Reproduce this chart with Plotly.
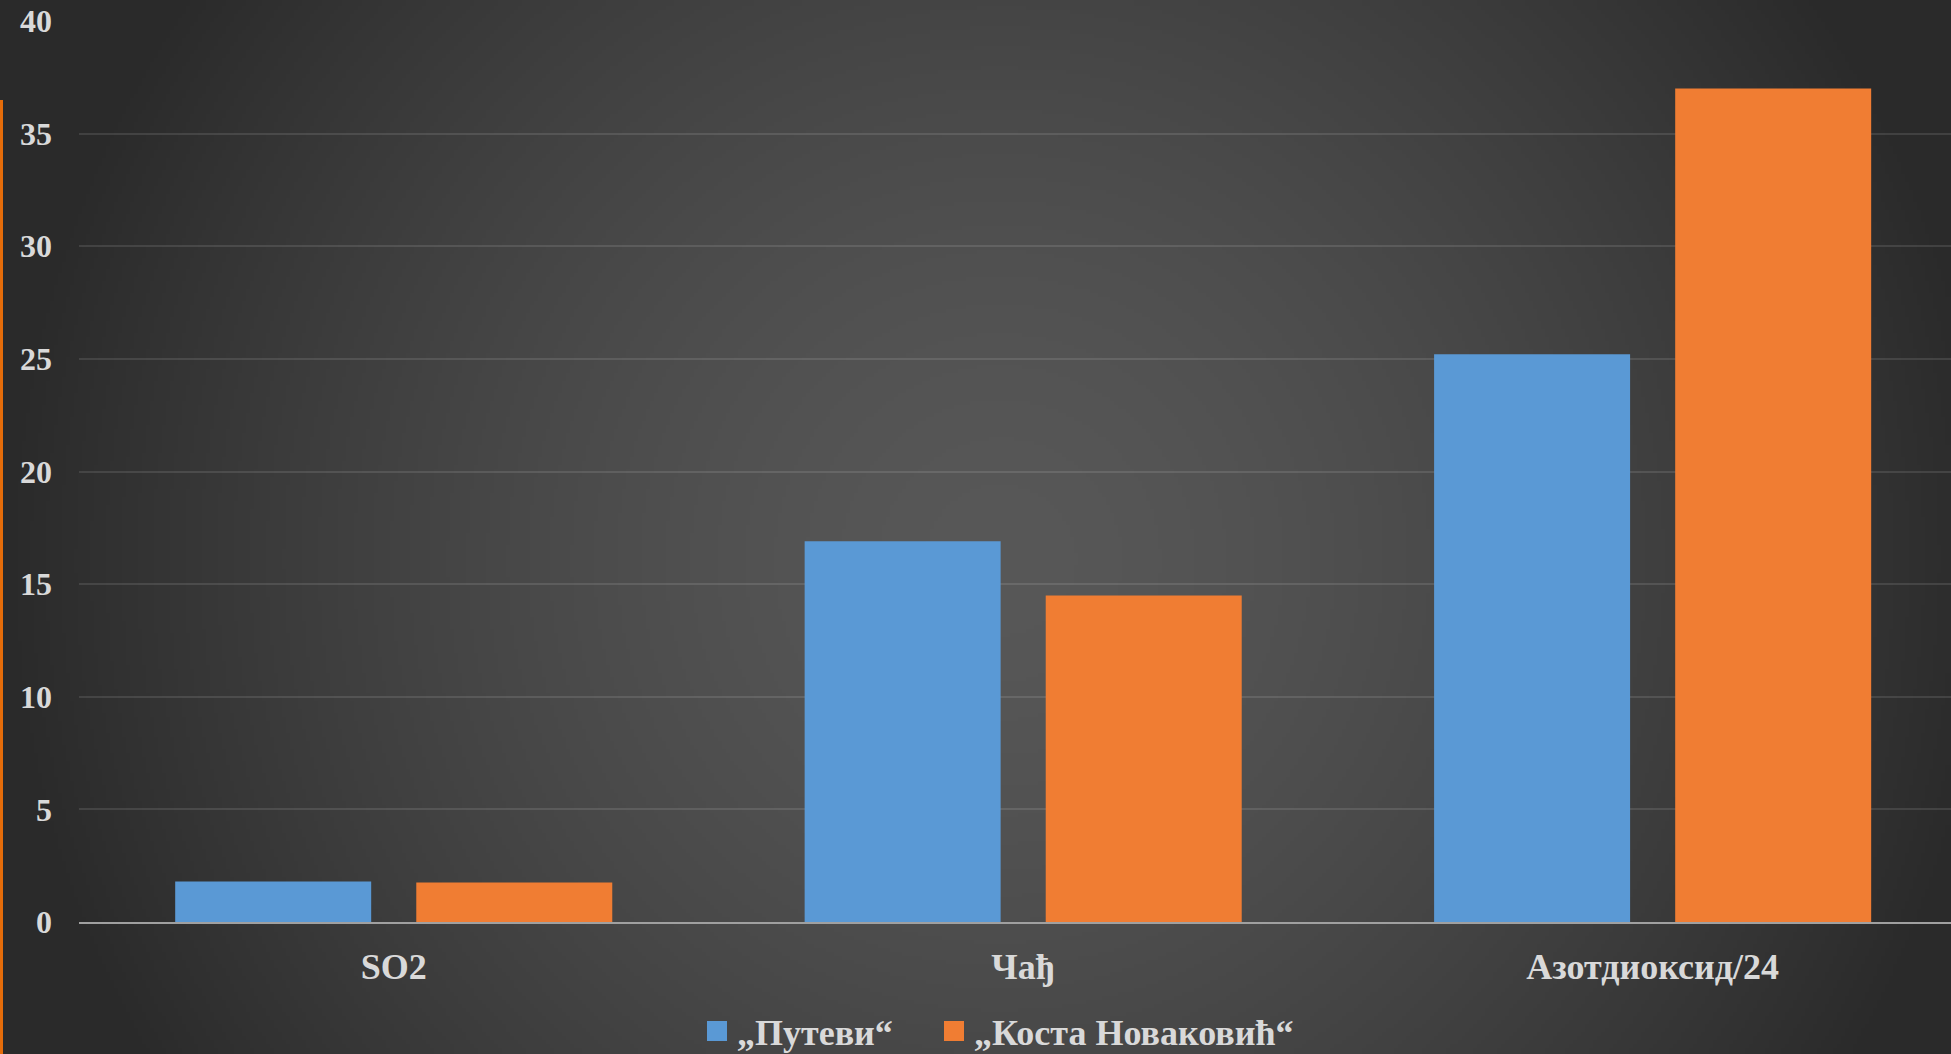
import base64
import struct
import zlib

import numpy as np
import plotly.graph_objects as go

# ---------------- data ----------------
categories = ["SO2", "Чађ", "Азотдиоксид/24"]
series_names = ["„Путеви“", "„Коста Новаковић“"]
putevi = [1.8, 16.9, 25.2]
kosta = [1.75, 14.5, 37.0]
y_ticks = [0, 5, 10, 15, 20, 25, 30, 35, 40]

# ---------------- styling ----------------
W, H = 1951, 1054
ML, MR, MT, MB = 79, 0, 21, 132
BLUE = "#5a99d5"
ORANGE = "#f07d33"
TEXT = "#d9d9d9"
FONT = "Liberation Serif, Times New Roman, serif"


def make_png(arr):
    h, w, _ = arr.shape
    raw = b"".join(b"\x00" + arr[i].tobytes() for i in range(h))

    def chunk(tag, data):
        c = struct.pack(">I", len(data)) + tag + data
        return c + struct.pack(">I", zlib.crc32(tag + data) & 0xFFFFFFFF)

    png = b"\x89PNG\r\n\x1a\n"
    png += chunk(b"IHDR", struct.pack(">IIBBBBB", w, h, 8, 2, 0, 0, 0))
    png += chunk(b"IDAT", zlib.compress(raw, 9))
    png += chunk(b"IEND", b"")
    return "data:image/png;base64," + base64.b64encode(png).decode()


# radial background gradient (light centre, dark edges)
gw, gh = 488, 264
xs = (np.arange(gw) + 0.5) * W / gw
ys = (np.arange(gh) + 0.5) * H / gh
X, Y = np.meshgrid(xs, ys)
d = np.sqrt(((X - 1000) / 1000) ** 2 + ((Y - 560) / 1000) ** 2)
f = 1 - np.clip(d, 0, 1) ** 1.5
v = (0x2A + (0x58 - 0x2A) * f).astype(np.uint8)
bg = np.stack([v, v, v], axis=-1)
bg_src = make_png(bg)

plot_w = W - ML - MR
plot_h = H - MT - MB


def px_x(px):
    return (px - ML) / plot_w


def px_y(py):
    return (MT + plot_h - py) / plot_h


fig = go.Figure()
fig.add_trace(go.Bar(x=categories, y=putevi, name=series_names[0],
                     marker=dict(color=BLUE, line=dict(width=0)), showlegend=False))
fig.add_trace(go.Bar(x=categories, y=kosta, name=series_names[1],
                     marker=dict(color=ORANGE, line=dict(width=0)), showlegend=False))
# legend entries with larger square swatches (one legend each for exact spacing)
fig.add_trace(go.Scatter(x=[None], y=[None], mode="markers", name=series_names[0],
                         legend="legend",
                         marker=dict(symbol="square", size=16, color=BLUE,
                                     line=dict(color=BLUE, width=4))))
fig.add_trace(go.Scatter(x=[None], y=[None], mode="markers", name=series_names[1],
                         legend="legend2",
                         marker=dict(symbol="square", size=16, color=ORANGE,
                                     line=dict(color=ORANGE, width=4))))

legend_common = dict(
    orientation="h",
    xanchor="left",
    yanchor="middle",
    font=dict(family=FONT, size=36, color=TEXT, weight="bold"),
    bgcolor="rgba(0,0,0,0)",
    itemclick=False,
    itemdoubleclick=False,
)

fig.update_layout(
    width=W, height=H,
    margin=dict(l=ML, r=MR, t=MT, b=MB, pad=0, autoexpand=False),
    paper_bgcolor="#2a2a2a",
    plot_bgcolor="rgba(0,0,0,0)",
    barmode="group",
    bargap=0.234,
    bargroupgap=0.187,
    font=dict(family=FONT, color=TEXT, weight="bold"),
    showlegend=True,
    legend=dict(legend_common, x=px_x(697), y=px_y(1031)),
    legend2=dict(legend_common, x=px_x(934), y=px_y(1031)),
    xaxis=dict(
        type="category",
        range=[-0.5, 2.474],
        showgrid=False,
        zeroline=False,
        showline=True,
        linecolor="#a0a0a0",
        linewidth=2,
        layer="above traces",
        ticks="",
        ticklabelstandoff=12,
        tickfont=dict(family=FONT, size=36, color=TEXT, weight="bold"),
        fixedrange=True,
        automargin=False,
    ),
    yaxis=dict(
        range=[0, 40],
        tickvals=y_ticks,
        showgrid=True,
        gridcolor="rgba(255,255,255,0.11)",
        gridwidth=2,
        zeroline=False,
        showline=False,
        ticks="",
        ticklabelstandoff=26,
        tickfont=dict(family=FONT, size=32, color=TEXT, weight="bold"),
        fixedrange=True,
        automargin=False,
    ),
    images=[dict(
        source=bg_src,
        xref="paper", yref="paper",
        x=-ML / plot_w, y=(MT + plot_h) / plot_h,
        sizex=W / plot_w, sizey=H / plot_h,
        xanchor="left", yanchor="top",
        sizing="stretch", layer="below", opacity=1,
    )],
    shapes=[dict(
        type="line", xref="paper", yref="paper",
        x0=px_x(1.5), x1=px_x(1.5),
        y0=px_y(100), y1=px_y(H),
        line=dict(color="#e46c0a", width=3),
    )],
)

fig.write_html("out.html", config={"displayModeBar": False})
